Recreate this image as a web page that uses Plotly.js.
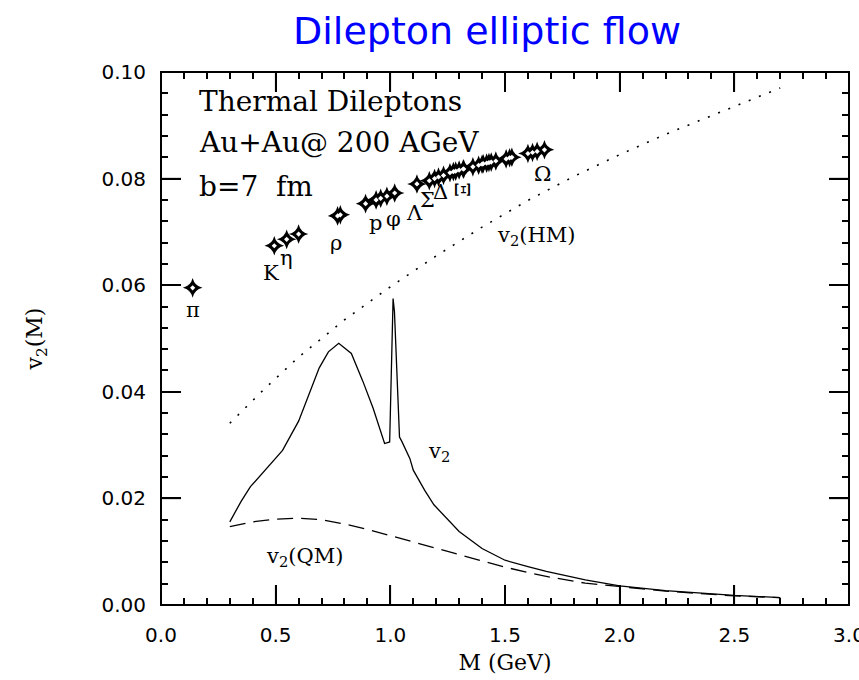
<!DOCTYPE html>
<html>
<head>
<meta charset="utf-8">
<script src="https://cdn.plot.ly/plotly-3.0.1.min.js"></script>
<style>html,body{margin:0;padding:0;background:#fff;}#chart{width:859px;height:680px;}</style>
</head>
<body>
<div id="chart"></div>
<script>
// Total thermal dilepton v2(M)
var v2Mass = [0.30,0.35,0.39,0.45,0.53,0.60,0.65,0.69,0.73,0.775,0.83,0.88,0.925,0.975,0.997,1.012,1.018,1.040,1.050,1.085,1.10,1.15,1.19,1.25,1.30,1.40,1.50,1.60,1.68,1.85,2.00,2.20,2.50,2.70];
var v2Total = [0.0156,0.0195,0.0222,0.0252,0.0290,0.0345,0.0400,0.0445,0.0475,0.0491,0.0472,0.0420,0.0369,0.0303,0.0306,0.0575,0.0550,0.0315,0.0307,0.0275,0.0253,0.0215,0.0188,0.0160,0.0138,0.0106,0.0084,0.0072,0.0063,0.0047,0.0036,0.0027,0.0018,0.0014];

// Quark matter contribution v2(QM)
var qmMass = [0.30,0.40,0.50,0.60,0.70,0.80,0.90,1.00,1.10,1.20,1.30,1.40,1.50,1.60,1.70,1.85,2.00,2.20,2.50,2.70];
var qmV2 = [0.0147,0.0156,0.0161,0.0163,0.0160,0.0152,0.0142,0.0130,0.0118,0.0107,0.0094,0.0082,0.0071,0.0061,0.0052,0.0041,0.0034,0.0026,0.0017,0.0014];

// Hadronic matter contribution v2(HM)
var hmMass = [0.30,0.45,0.60,0.80,1.00,1.20,1.40,1.60,1.80,2.00,2.20,2.40,2.70];
var hmV2 = [0.0341,0.0405,0.0465,0.0535,0.0597,0.0655,0.0709,0.0759,0.0804,0.0845,0.0883,0.0918,0.0970];

// Hadron v2 at their masses
var hadronMass = [0.138,0.494,0.548,0.600,0.770,0.782,0.892,0.938,0.958,0.985,1.019,1.116,1.170,1.193,1.210,1.232,1.260,1.275,1.285,1.300,1.318,1.320,1.360,1.385,1.400,1.405,1.420,1.430,1.440,1.460,1.505,1.520,1.530,1.600,1.620,1.640,1.672];
var hadronV2 = [0.0595,0.0674,0.0686,0.0696,0.0730,0.0732,0.0753,0.0760,0.0763,0.0767,0.0773,0.0790,0.0796,0.0800,0.0803,0.0806,0.0811,0.0813,0.0814,0.0816,0.0818,0.0818,0.0822,0.0825,0.0827,0.0828,0.0829,0.0830,0.0831,0.0833,0.0837,0.0839,0.0840,0.0847,0.0849,0.0851,0.0854];

// Hadron labels
var hadronLabels = ['π','K','η','ρ','p','φ','Λ','Σ','Δ','Ξ','Ω'];
var hadronLabelX = [0.140,0.479,0.549,0.762,0.936,1.014,1.106,1.163,1.219,1.315,1.663];
var hadronLabelY = [0.0553,0.0623,0.0651,0.0679,0.0717,0.0724,0.0735,0.0760,0.0775,0.0779,0.0809];

var curveLabels = ['v<sub>2</sub>(HM)','v<sub>2</sub>','v<sub>2</sub>(QM)'];
var curveLabelX = [1.637,1.211,0.627];
var curveLabelY = [0.0692,0.0287,0.0090];

var infoLines = ['Thermal Dileptons','Au+Au@ 200 AGeV','b=7  fm'];
var infoY = [0.0945,0.0867,0.0786];

// Axis ranges and major tick values
var xRange = [0, 3];
var yRange = [0, 0.1];
var xMajorTicks = [0.5, 1.0, 1.5, 2.0, 2.5];
var yMajorTicks = [0.02, 0.04, 0.06, 0.08];

var serif = 'DejaVu Serif';
var sans = 'DejaVu Sans';

// Major tick segments built from the tick values (length as a fraction of the axis span)
var tickFrac = 0.0375;
function tickSegsX() {
  var xs = [], ys = [];
  var dy = (yRange[1] - yRange[0]) * tickFrac;
  xMajorTicks.forEach(function(t){
    xs.push(t, t, null, t, t, null);
    ys.push(yRange[0], yRange[0] + dy, null, yRange[1], yRange[1] - dy, null);
  });
  return {x: xs, y: ys};
}
function tickSegsY() {
  var xs = [], ys = [];
  var dx = (xRange[1] - xRange[0]) * tickFrac * 533 / 688;
  yMajorTicks.forEach(function(t){
    xs.push(xRange[0], xRange[0] + dx, null, xRange[1], xRange[1] - dx, null);
    ys.push(t, t, null, t, t, null);
  });
  return {x: xs, y: ys};
}
var tx = tickSegsX(), ty = tickSegsY();

var traces = [
  {x: hmMass, y: hmV2, mode:'lines', line:{color:'black', width:1.6, dash:'2px,9px'}, hoverinfo:'skip', showlegend:false},
  {x: qmMass, y: qmV2, mode:'lines', line:{color:'black', width:1.3, dash:'16px,8px'}, hoverinfo:'skip', showlegend:false},
  {x: v2Mass, y: v2Total, mode:'lines', line:{color:'black', width:1.3}, hoverinfo:'skip', showlegend:false},
  {x: hadronMass, y: hadronV2, mode:'markers', marker:{symbol:'star-diamond', size:14, color:'black', line:{width:0}}, hoverinfo:'skip', showlegend:false},
  {x: hadronMass, y: hadronV2, mode:'markers', marker:{symbol:'diamond', size:4, color:'white', line:{width:0}}, hoverinfo:'skip', showlegend:false},
  {x: tx.x, y: tx.y, mode:'lines', connectgaps:false, line:{color:'black', width:1.5}, hoverinfo:'skip', showlegend:false},
  {x: ty.x, y: ty.y, mode:'lines', connectgaps:false, line:{color:'black', width:1.5}, hoverinfo:'skip', showlegend:false}
];

var annotations = [];
for (var i = 0; i < hadronLabels.length; i++) {
  annotations.push({x: hadronLabelX[i], y: hadronLabelY[i], xref:'x', yref:'y', text: hadronLabels[i], showarrow:false,
    textangle: hadronLabels[i] === 'Ξ' ? 90 : 0, font:{family: serif, size:21, color:'black'}});
}
for (var j = 0; j < curveLabels.length; j++) {
  annotations.push({x: curveLabelX[j], y: curveLabelY[j], xref:'x', yref:'y', text: curveLabels[j], showarrow:false,
    font:{family: serif, size:21, color:'black'}});
}
for (var k = 0; k < infoLines.length; k++) {
  annotations.push({x: 0.155, y: infoY[k], xref:'x', yref:'y', xanchor:'left', text: infoLines[k], showarrow:false,
    font:{family: serif, size:28, color:'black'}});
}

var layout = {
  width:859, height:680,
  margin:{l:161, r:10, t:72, b:75},
  showlegend:false,
  title:{text:'Dilepton elliptic flow', font:{family: sans, size:38, color:'#0000ff'},
    x:0.567, xanchor:'center', xref:'container', y:0.955, yanchor:'middle', yref:'container'},
  xaxis: {
    range:xRange, dtick:0.5, tick0:0, tickformat:'.1f',
    showgrid:false, zeroline:false, showline:true, linecolor:'black',
    mirror:'allticks', ticks:'inside', ticklen:20, tickwidth:2, tickcolor:'black',
    minor:{dtick:0.1, ticklen:7, ticks:'inside', tickcolor:'black', showgrid:false},
    tickfont:{family: sans, size:20, color:'black'}, ticklabeloverflow:'allow', ticklabelstandoff:12,
    title:{text:'M (GeV)', font:{family: serif, size:22, color:'black'}, standoff:8}
  },
  yaxis: {
    range:yRange, dtick:0.02, tick0:0, tickformat:'.2f',
    showgrid:false, zeroline:false, showline:true, linecolor:'black',
    mirror:'allticks', ticks:'inside', ticklen:20, tickwidth:2, tickcolor:'black',
    minor:{dtick:0.004, ticklen:7, ticks:'inside', tickcolor:'black', showgrid:false},
    tickfont:{family: sans, size:20, color:'black'}, ticklabelstandoff:10,
    title:{text:'v<sub>2</sub>(M)', font:{family: serif, size:22, color:'black'}, standoff:52}
  },
  shapes: [{type:'rect', xref:'paper', yref:'paper', x0:0, x1:1, y0:0, y1:1, line:{color:'black', width:2}, fillcolor:'rgba(0,0,0,0)', layer:'above'}],
  annotations: annotations
};

Plotly.newPlot('chart', traces, layout, {staticPlot:true});
</script>
</body>
</html>
